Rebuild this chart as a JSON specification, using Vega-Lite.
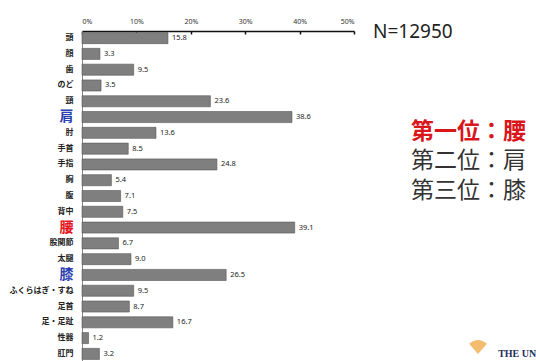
{
  "$schema": "https://vega.github.io/schema/vega-lite/v6.json",
  "width": 454,
  "height": 330,
  "autosize": {"type": "none"},
  "padding": {"left": 82, "top": 31, "right": 0, "bottom": 0},
  "background": "white",
  "config": {"view": {"stroke": null}, "font": "Noto Sans CJK JP"},
  "data": {
    "values": [
      {"part": "頭", "pct": 15.8},
      {"part": "顔", "pct": 3.3},
      {"part": "歯", "pct": 9.5},
      {"part": "のど", "pct": 3.5},
      {"part": "頸", "pct": 23.6},
      {"part": "肩", "pct": 38.6},
      {"part": "肘", "pct": 13.6},
      {"part": "手首", "pct": 8.5},
      {"part": "手指", "pct": 24.8},
      {"part": "胸", "pct": 5.4},
      {"part": "腹", "pct": 7.1},
      {"part": "背中", "pct": 7.5},
      {"part": "腰", "pct": 39.1},
      {"part": "股関節", "pct": 6.7},
      {"part": "太腿", "pct": 9.0},
      {"part": "膝", "pct": 26.5},
      {"part": "ふくらはぎ・すね", "pct": 9.5},
      {"part": "足首", "pct": 8.7},
      {"part": "足・足趾", "pct": 16.7},
      {"part": "性器", "pct": 1.2},
      {"part": "肛門", "pct": 3.2}
    ]
  },
  "layer": [
    {
      "mark": {"type": "bar", "color": "#7f7f7f", "stroke": "#555555", "strokeWidth": 0.6},
      "encoding": {
        "y": {
          "field": "part", "type": "nominal", "sort": null,
          "scale": {"paddingInner": 0.3, "paddingOuter": 0.1},
          "axis": {
            "title": null, "ticks": false, "domain": true, "domainColor": "#888888", "domainWidth": 1,
            "labelPadding": 9, "labelFont": "Noto Sans CJK JP", "labelFontWeight": "bold",
            "labelFontSize": {"condition": {"test": "indexof(['肩','腰','膝'], datum.value) >= 0", "value": 14}, "value": 8},
            "labelColor": {"condition": [
              {"test": "datum.value === '腰'", "value": "#e3141c"},
              {"test": "datum.value === '肩' || datum.value === '膝'", "value": "#2d3fb0"}
            ], "value": "#222222"}
          }
        },
        "x": {
          "field": "pct", "type": "quantitative",
          "scale": {"domain": [0, 50], "range": [0, 272], "nice": false},
          "axis": {
            "orient": "top", "title": null, "values": [0, 10, 20, 30, 40, 50],
            "labelExpr": "datum.value + '%'", "labelFontSize": 7, "labelColor": "#333333",
            "labelFont": "Noto Sans",
            "grid": false, "domainColor": "#111111", "domainWidth": 1.5,
            "tickColor": "#111111", "tickSize": -3, "tickWidth": 1.5, "labelPadding": 10
          }
        }
      }
    },
    {
      "mark": {"type": "text", "align": "left", "baseline": "middle", "dx": 4, "fontSize": 7.5, "color": "#222222", "font": "Noto Sans"},
      "encoding": {
        "y": {"field": "part", "type": "nominal", "sort": null},
        "x": {"field": "pct", "type": "quantitative"},
        "text": {"field": "pct", "type": "quantitative", "format": ".1f"}
      }
    },
    {
      "data": {"values": [{"note": "N=12950"}]},
      "mark": {"type": "text", "align": "left", "baseline": "middle", "dy": -6, "fontSize": 19, "color": "#222222", "font": "Noto Sans"},
      "encoding": {"x": {"datum": 53.5}, "y": {"datum": "頭"}, "text": {"field": "note"}}
    },
    {
      "data": {"values": [{"note": "第一位：腰"}]},
      "mark": {"type": "text", "align": "left", "baseline": "middle", "dy": -1, "fontSize": 23, "fontWeight": "bold", "color": "#d9161c", "font": "Noto Sans CJK JP"},
      "encoding": {"x": {"datum": 60.5}, "y": {"datum": "肘"}, "text": {"field": "note"}}
    },
    {
      "data": {"values": [{"note": "第二位：肩"}]},
      "mark": {"type": "text", "align": "left", "baseline": "middle", "dy": -3, "fontSize": 23, "color": "#333333", "font": "Noto Sans CJK JP"},
      "encoding": {"x": {"datum": 60.5}, "y": {"datum": "手指"}, "text": {"field": "note"}}
    },
    {
      "data": {"values": [{"note": "第三位：膝"}]},
      "mark": {"type": "text", "align": "left", "baseline": "middle", "dy": -5, "fontSize": 23, "color": "#333333", "font": "Noto Sans CJK JP"},
      "encoding": {"x": {"datum": 60.5}, "y": {"datum": "腹"}, "text": {"field": "note"}}
    },
    {
      "data": {"values": [{"logo": "ginkgo"}]},
      "mark": {"type": "point", "filled": true, "color": "#f0a030", "size": 320, "yOffset": -7,
               "shape": "M0,0.8 L-1,-0.35 Q0,-1.2 1,-0.35 Z"},
      "encoding": {"x": {"datum": 72.8}, "y": {"datum": "肛門"}}
    },
    {
      "data": {"values": [{"note": "THE UN"}]},
      "mark": {"type": "text", "align": "left", "baseline": "middle", "fontSize": 10, "fontWeight": "bold", "color": "#1b2c5c", "font": "Liberation Serif"},
      "encoding": {"x": {"datum": 76.5}, "y": {"datum": "肛門"}, "text": {"field": "note"}}
    }
  ]
}
